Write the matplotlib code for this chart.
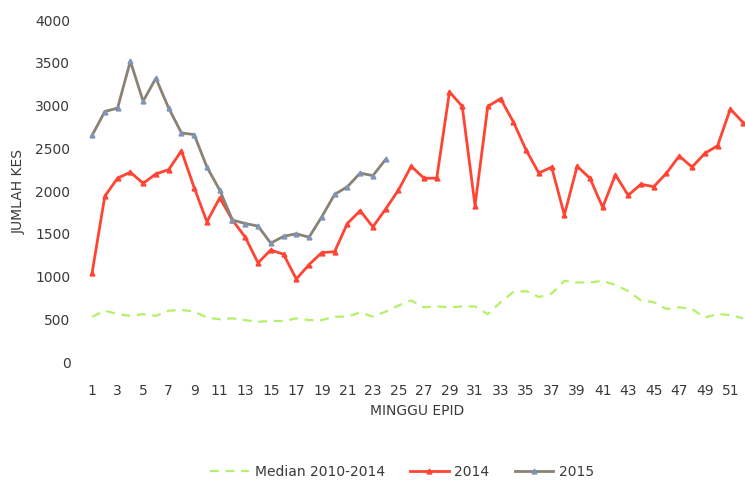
import matplotlib.pyplot as plt

# Data
minggu = list(range(1, 53))
median_2010_2014 = [530, 600, 560, 540, 560, 540, 600, 610, 590, 520,
                    500, 510, 490, 470, 480, 480, 510, 490, 490, 530,
                    530, 580, 530, 590, 660, 720, 640, 650, 640, 650,
                    650, 560, 700, 820, 830, 760, 800, 950, 930, 930,
                    950, 900, 830, 720, 700, 620, 640, 620, 520, 560,
                    550, 510]
kes_2014 = [1040, 1940, 2150, 2220, 2090, 2200, 2250, 2470, 2040, 1640,
            1920, 1660, 1460, 1160, 1310, 1260, 970, 1140, 1280, 1290,
            1620, 1770, 1580, 1790, 2010, 2290, 2150, 2150, 3160, 2990,
            1830, 2990, 3080, 2810, 2480, 2210, 2280, 1720, 2290, 2150,
            1810, 2190, 1950, 2080, 2050, 2210, 2410, 2280, 2440, 2530,
            2960, 2800]
minggu_2015 = list(range(1, 25))
kes_2015 = [2650, 2930, 2970, 3520, 3050, 3320, 2970, 2680, 2660, 2280,
            2010, 1660, 1620, 1590, 1390, 1470, 1500, 1460, 1700, 1960,
            2050, 2210, 2180, 2370]
yticks = [0, 500, 1000, 1500, 2000, 2500, 3000, 3500, 4000]

text_col = "#3a3a3a"
fs = 10

fig = plt.figure(figsize=(7.45, 4.83), dpi=100)
ax = fig.add_axes([0.115, 0.2505, 0.891, 0.708])

ax.plot(minggu, median_2010_2014, color="#b4f06a", lw=1.6,
        linestyle=(0, (4, 3)), label="Median 2010-2014")
ax.plot(minggu, kes_2014, color="#ff4433", lw=2, marker="^", ms=3.5,
        label="2014")
ax.plot(minggu_2015, kes_2015, color="#8a8272", lw=2, marker="^", ms=3.5,
        markerfacecolor="#7f95b8", markeredgecolor="#7f95b8", label="2015")

ax.set_xlim(0.5, 52.5)
ax.set_ylim(0, 4000)
ax.set_yticks(yticks)
ax.set_xticks(minggu[::2])
ax.tick_params(length=0, labelsize=fs, labelcolor=text_col)
ax.tick_params(axis="x", pad=16)
ax.tick_params(axis="y", pad=11)
for s in ax.spines.values():
    s.set_visible(False)

ax.set_xlabel("MINGGU EPID", fontsize=fs, color=text_col, labelpad=4)
ax.set_ylabel("JUMLAH KES", fontsize=fs, color=text_col, labelpad=7)

fig.legend(loc="center", bbox_to_anchor=(0.54, 0.023), ncol=3,
           frameon=False, fontsize=fs, handlelength=2.8, handletextpad=0.4,
           columnspacing=1.8, labelcolor=text_col)

fig.savefig("out.png", dpi=100)
